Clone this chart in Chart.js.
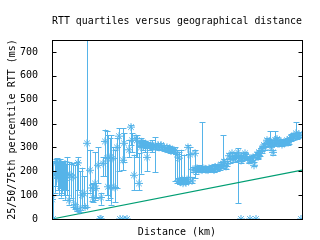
<!DOCTYPE html>
<html>
<head>
<meta charset="utf-8">
<script src="https://cdn.jsdelivr.net/npm/chart.js@4/dist/chart.umd.min.js"></script>
<style>
  html, body { margin: 0; padding: 0; background: #fff; }
  #wrap { width: 320px; height: 240px; }
</style>
</head>
<body>
<div id="wrap"><canvas id="rttChart" width="320" height="240"></canvas></div>
<script>
// distance in km, RTT quartiles in ms
const distancias = [0, 50, 150, 200, 250, 350, 450, 550, 650, 750, 850, 950, 1050, 1150, 1250, 1300, 1400, 1500, 1600, 1650, 1750, 1900, 2000, 2050, 2150, 2200, 2300, 2400, 2450, 2450, 2550, 2650, 2750, 2800, 2900, 2950, 3050, 3150, 3250, 3350, 3400, 3550, 3550, 3600, 3750, 3850, 3950, 4000, 4100, 4200, 4250, 4350, 4450, 4550, 4650, 4750, 4900, 5000, 5150, 5300, 5450, 5600, 5750, 5900, 6000, 6100, 6150, 6250, 6350, 6450, 6550, 6600, 6700, 6800, 6900, 7000, 7150, 7200, 7350, 7500, 7650, 7800, 7950, 8100, 8250, 8400, 8550, 8700, 8750, 8900, 9000, 9150, 9300, 9300, 9450, 9450, 9550, 9650, 9900, 9900, 10000, 10100, 10200, 10300, 10300, 10400, 10500, 10650, 10800, 10900, 11000, 11050, 11150, 11250, 11400, 11550, 11700, 11850, 11950, 12050, 12200, 12300, 12450,
    300, 400, 500, 600, 700, 4400, 4500, 4600, 4700, 4800, 4950, 5050, 5200, 5350, 5500, 5650, 5800, 5950, 6300, 6400, 6500, 6650, 6750, 7050, 7250, 7400, 7550, 7700, 7850, 8000, 8150, 8300, 8450, 8600, 8850, 9050, 9200, 9350, 9500, 9700, 9850, 10050, 10250, 10350, 10500, 10600, 10750, 10850, 10950, 11100, 11200, 11300, 11450, 11500, 11600, 11750, 11800, 11900, 12000, 12100, 12250, 12350];
const mediana = [82, 0, 185, 191, 237, 180, 183, 175, 191, 180, 78, 185, 175, 60, 44, 235, 36, 100, 107, 50, 317, 204, 130, 90, 149, 128, 225, 0, 90, 0, 233, 325, 254, 135, 258, 132, 254, 132, 300, 347, 0, 246, 0, 317, 0, 290, 385, 330, 183, 338, 330, 149, 300, 320, 310, 258, 305, 300, 305, 310, 310, 300, 300, 295, 290, 287, 285, 270, 255, 155, 150, 160, 152, 300, 270, 160, 275, 203, 210, 205, 210, 205, 210, 205, 210, 215, 225, 220, 230, 254, 275, 255, 260, 279, 0, 245, 265, 275, 0, 250, 255, 225, 0, 260, 265, 275, 288, 300, 321, 320, 317, 279, 330, 335, 320, 318, 320, 325, 340, 345, 359, 350, 0,
    170, 190, 178, 185, 172, 315, 318, 312, 308, 312, 308, 305, 303, 300, 298, 293, 290, 285, 160, 155, 165, 158, 165, 208, 212, 208, 212, 206, 212, 214, 218, 220, 228, 240, 265, 250, 265, 260, 252, 262, 245, 258, 270, 280, 295, 310, 330, 325, 300, 320, 330, 315, 325, 312, 318, 330, 320, 335, 340, 350, 345, 355];
const p25 = [82, 0, 110, 140, 175, 100, 90, 120, 80, 100, 60, 90, 50, 40, 35, 120, 30, 50, 60, 45, 50, 110, 75, 70, 80, 90, 150, 0, 60, 0, 180, 180, 100, 80, 90, 60, 130, 70, 130, 200, 0, 204, 0, 240, 0, 260, 310, 280, 120, 260, 260, 120, 190, 290, 280, 200, 290, 280, 196, 295, 300, 290, 290, 285, 280, 275, 160, 150, 160, 150, 145, 150, 145, 150, 160, 150, 170, 190, 195, 195, 200, 195, 200, 195, 200, 205, 215, 210, 220, 235, 250, 240, 245, 65, 0, 235, 255, 260, 0, 240, 245, 220, 0, 250, 255, 265, 275, 290, 305, 305, 305, 270, 315, 320, 310, 310, 310, 315, 325, 330, 340, 340, 0,
    120, 130, 110, 100, 120, 305, 308, 300, 298, 300, 298, 295, 293, 290, 288, 283, 280, 275, 150, 148, 155, 150, 155, 198, 200, 198, 200, 196, 202, 204, 208, 210, 218, 228, 250, 240, 255, 248, 242, 252, 235, 248, 260, 270, 285, 300, 318, 315, 290, 310, 320, 305, 315, 305, 308, 320, 310, 325, 330, 340, 335, 345];
const p75 = [82, 235, 245, 250, 255, 250, 245, 235, 245, 260, 240, 230, 235, 225, 240, 260, 200, 215, 180, 60, 750, 290, 145, 150, 280, 150, 300, 0, 110, 0, 260, 375, 370, 350, 340, 350, 300, 290, 340, 380, 0, 380, 0, 360, 0, 330, 395, 360, 270, 350, 350, 275, 340, 330, 325, 320, 320, 330, 342, 320, 320, 310, 310, 305, 300, 300, 300, 290, 280, 290, 170, 270, 175, 310, 300, 175, 290, 215, 225, 405, 220, 215, 220, 215, 225, 230, 350, 235, 245, 265, 280, 270, 270, 296, 0, 260, 275, 280, 0, 260, 265, 240, 0, 270, 275, 285, 300, 315, 330, 368, 330, 290, 368, 345, 330, 330, 335, 340, 355, 360, 406, 360, 0,
    240, 250, 240, 245, 230, 325, 328, 320, 318, 322, 318, 315, 313, 310, 308, 303, 300, 295, 170, 165, 175, 170, 175, 218, 222, 218, 222, 216, 222, 226, 230, 232, 240, 250, 275, 262, 275, 270, 262, 272, 255, 268, 280, 290, 305, 320, 340, 335, 310, 330, 340, 325, 335, 320, 328, 340, 330, 345, 350, 360, 355, 365];
// the two ends of the straight reference line
const rectaX = [0, 12500];
const rectaY = [0, 205];
const yTicks = [0, 100, 200, 300, 400, 500, 600, 700];

const azul = '#56b4e9';
const verde = '#009e73';
const fuente = { family: "'DejaVu Sans Mono', monospace", size: 10 };

const puntos = distancias.map((d, i) => ({ x: d, y: mediana[i] }));
const recta = rectaX.map((d, i) => ({ x: d, y: rectaY[i] }));

// error bars, frame and inward ticks (gnuplot style)
const barrasPlugin = {
    id: 'barras',
    beforeDatasetsDraw(chart) {
        const ctx = chart.ctx;
        const xs = chart.scales.x, ys = chart.scales.y;
        const area = chart.chartArea;
        ctx.save();
        ctx.beginPath();
        ctx.rect(area.left, area.top, area.right - area.left, area.bottom - area.top);
        ctx.clip();
        ctx.strokeStyle = azul;
        ctx.lineWidth = 1;
        distancias.forEach((d, i) => {
            if (p25[i] === p75[i]) return;
            const px = Math.round(xs.getPixelForValue(d)) + 0.5;
            const lo = ys.getPixelForValue(p25[i]);
            const hi = ys.getPixelForValue(p75[i]);
            ctx.beginPath();
            ctx.moveTo(px, lo);
            ctx.lineTo(px, hi);
            ctx.moveTo(px - 3, Math.round(lo) + 0.5);
            ctx.lineTo(px + 3, Math.round(lo) + 0.5);
            ctx.moveTo(px - 3, Math.round(hi) + 0.5);
            ctx.lineTo(px + 3, Math.round(hi) + 0.5);
            ctx.stroke();
        });
        ctx.restore();
    },
    afterDraw(chart) {
        const ctx = chart.ctx;
        const ys = chart.scales.y;
        const a = chart.chartArea;
        ctx.save();
        ctx.strokeStyle = '#000';
        ctx.lineWidth = 1;
        const l = Math.round(a.left) + 0.5, r = Math.round(a.right) + 0.5;
        const t = Math.round(a.top) + 0.5, b = Math.round(a.bottom) + 0.5;
        ctx.strokeRect(l, t, r - l, b - t);
        ctx.beginPath();
        yTicks.forEach(v => {
            const py = Math.round(ys.getPixelForValue(v)) + 0.5;
            ctx.moveTo(l, py); ctx.lineTo(l + 4, py);
            ctx.moveTo(r, py); ctx.lineTo(r - 4, py);
        });
        ctx.stroke();
        ctx.restore();
    }
};

const ctx = document.getElementById('rttChart').getContext('2d');
const chart = new Chart(ctx, {
    type: 'scatter',
    data: {
        datasets: [{
            label: 'RTT',
            data: puntos,
            pointStyle: 'star',
            pointRadius: 4,
            borderColor: azul,
            backgroundColor: azul,
            borderWidth: 1,
            showLine: false
        }, {
            label: 'recta',
            data: recta,
            showLine: true,
            pointRadius: 0,
            borderColor: verde,
            borderWidth: 1.2,
            fill: false
        }]
    },
    options: {
        responsive: false,
        animation: false,
        layout: { padding: { right: 18, top: 0, left: 0, bottom: 0 } },
        plugins: {
            legend: { display: false },
            tooltip: { enabled: false },
            title: {
                display: true,
                text: 'RTT quartiles versus geographical distance',
                color: '#000',
                font: { family: fuente.family, size: 10, weight: 'normal' },
                padding: { top: 15, bottom: 13 },
                fullSize: false
            }
        },
        scales: {
            x: {
                type: 'linear',
                min: 0,
                max: 12500,
                grid: { display: false },
                border: { display: false },
                ticks: { display: false },
                title: {
                    display: true,
                    text: 'Distance (km)',
                    color: '#000',
                    font: fuente,
                    padding: { top: 0, bottom: 2 }
                },
                afterFit(scale) { scale.height = 21; }
            },
            y: {
                min: 0,
                max: 750,
                grid: { display: false },
                border: { display: false },
                afterBuildTicks(scale) {
                    scale.ticks = yTicks.map(v => ({ value: v }));
                },
                ticks: { color: '#000', font: fuente, padding: 6 },
                title: {
                    display: true,
                    text: '25/50/75th percentile RTT (ms)',
                    color: '#000',
                    font: fuente,
                    padding: { top: 6, bottom: 0 }
                },
                afterFit(scale) { scale.width = 52; }
            }
        }
    },
    plugins: [barrasPlugin]
});
</script>
</body>
</html>
